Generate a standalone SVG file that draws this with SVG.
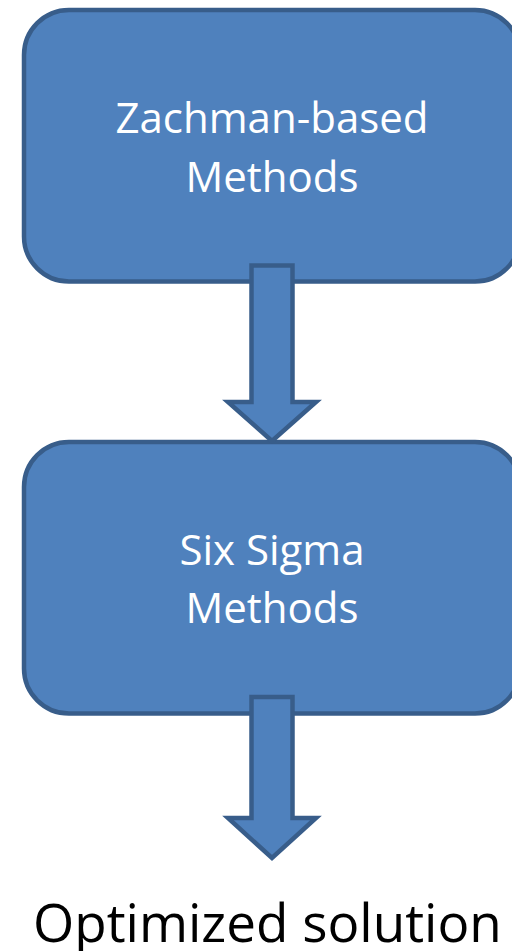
<svg xmlns="http://www.w3.org/2000/svg" width="512" height="951" viewBox="0 0 512 951">
<style>
.box{fill:#4f81bd;stroke:#385d8a;stroke-width:4.5}
.arrow{fill:#4f81bd;stroke:#385d8a;stroke-width:4.5;stroke-linejoin:miter}
.lbl{font-family:"Open Sans","Liberation Sans",sans-serif;font-size:42px;fill:#ffffff;text-anchor:middle}
.out{font-family:"Open Sans","Liberation Sans",sans-serif;font-size:53px;fill:#000000}
</style>
<rect width="512" height="951" fill="#ffffff"/>
<g id="node-zachman">
<rect class="box" x="24" y="10" width="496" height="271.5" rx="45" ry="45"/>
<text class="lbl" x="272" y="133">Zachman-based</text>
<text class="lbl" x="272" y="192">Methods</text>
</g>
<g id="node-sixsigma">
<rect class="box" x="24" y="442" width="496" height="271.5" rx="45" ry="45"/>
<text class="lbl" x="272" y="565">Six Sigma</text>
<text class="lbl" x="272" y="623">Methods</text>
</g>
<g id="connectors">
<polygon class="arrow" points="251.5,265.5 292.5,265.5 292.5,402 316,402 272,441 228,402 251.5,402"/>
<polygon class="arrow" points="251.5,697 292.5,697 292.5,818 316,818 272,858 228,818 251.5,818"/>
</g>
<g id="node-optimized">
<text class="out" x="33" y="942">Optimized solution</text>
</g>
</svg>
